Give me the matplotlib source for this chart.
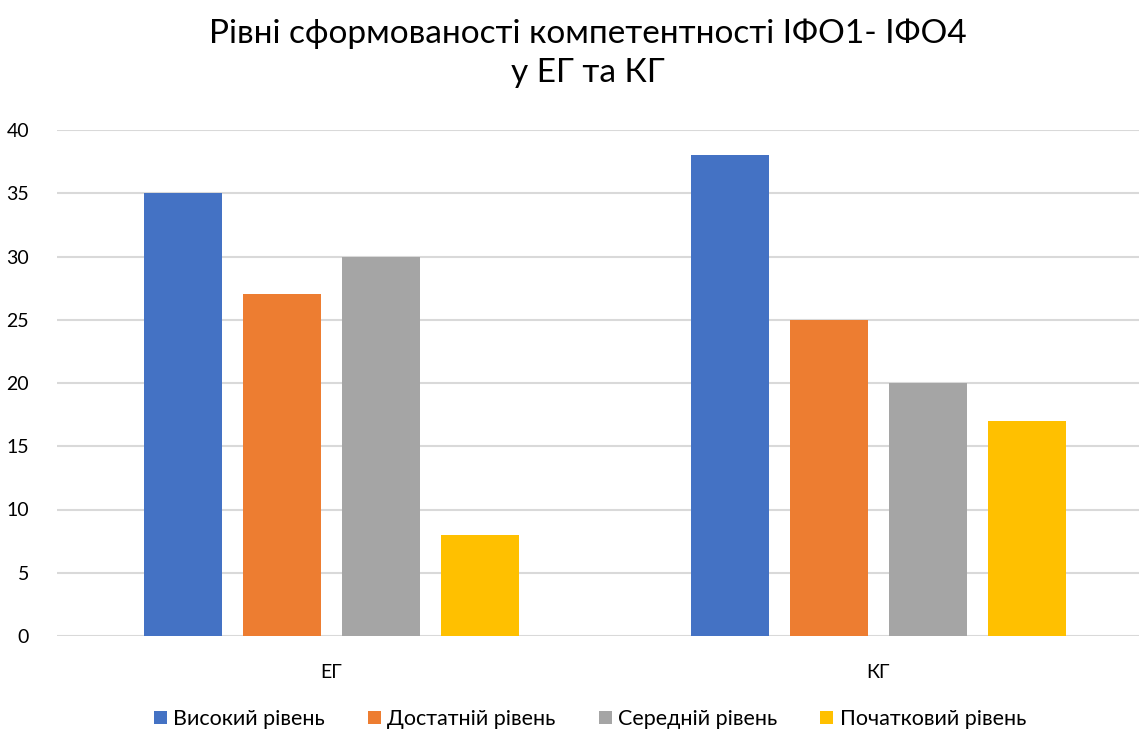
import matplotlib
matplotlib.use("Agg")
import matplotlib.pyplot as plt
import numpy as np

plt.rcParams['font.family'] = ['Lato', 'DejaVu Sans']

groups = ["ЕГ", "КГ"]
series = ["Високий рівень", "Достатній рівень", "Середній рівень", "Початковий рівень"]
values = {
    "Високий рівень": [35, 38],
    "Достатній рівень": [27, 25],
    "Середній рівень": [30, 20],
    "Початковий рівень": [8, 17],
}
colors = ["#4472C4", "#ED7D31", "#A5A5A5", "#FFC000"]
yticks = [0, 5, 10, 15, 20, 25, 30, 35, 40]
title = "Рівні сформованості компетентності ІФО1- ІФО4\nу ЕГ та КГ"

fig = plt.figure(figsize=(11.39, 7.31), dpi=100)
ax = fig.add_axes([57 / 1139, (731 - 636) / 731, (1139 - 57) / 1139, 506 / 731])

x = np.arange(len(groups))
width = 0.1426
step = 0.181
for i, (name, c) in enumerate(zip(series, colors)):
    ax.bar(x + (i - 1.5) * step, values[name], width, color=c, label=name, zorder=3)

ax.set_xlim(-0.501, 1.477)
ax.set_ylim(0, 40)
ax.set_yticks(yticks)
ax.set_xticks(x)
ax.set_xticklabels(groups)
ax.grid(axis='y', color='#D9D9D9', linewidth=1.5, zorder=0)
for s in ax.spines.values():
    s.set_visible(False)
ax.tick_params(axis='both', length=0, labelsize=14, colors='#000000')
ax.tick_params(axis='x', pad=20)
ax.tick_params(axis='y', pad=20)

fig.text(0.516, 1 - 53 / 731, title, ha='center', va='center', fontsize=24, linespacing=1.38)

fig.legend(loc='center', bbox_to_anchor=(0.518, 1 - 719 / 731), ncol=4, frameon=False,
           fontsize=15.5, handlelength=0.6, handleheight=0.6, handletextpad=0.3, columnspacing=2.0)

fig.savefig("out.png", dpi=100, facecolor='white')
